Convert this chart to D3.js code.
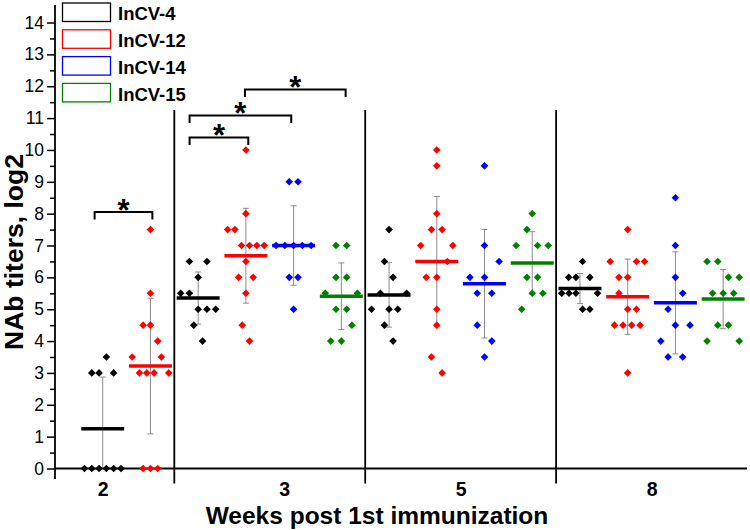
<!DOCTYPE html>
<html>
<head>
<meta charset="utf-8">
<script src="https://cdn.jsdelivr.net/npm/d3@7"></script>
<style>
  html, body { margin: 0; padding: 0; background: #fff; }
  svg { display: block; }
</style>
</head>
<body>
<svg id="chart" width="750" height="530"></svg>
<script>
// ---------------- DATA ----------------
const weeks = ["2", "3", "5", "8"];
const weekLabelPos = [0, 3.8, 7.5, 11.5];      // axis positions of the week labels (slot units)
const groupDividers = [1.5, 5.5, 9.5];          // separators between weeks (slot units)
const seriesNames = ["InCV-4", "InCV-12", "InCV-14", "InCV-15"];
const seriesColors = ["#000000", "#ff0000", "#0000ff", "#008000"];
const yTicks = [0,1,2,3,4,5,6,7,8,9,10,11,12,13,14];

// Each group: values and jitter (in point-width units)
const w2_InCV4_values  = [3.5, 3, 3, 3, 0, 0, 0, 0, 0, 0];
const w2_InCV4_jitter  = [0.5, -1.5, -0.5, 1.5, -2.5, -1.5, -0.5, 0.5, 1.5, 2.5];
const w2_InCV12_values = [7.5, 5.5, 4.5, 4.5, 4, 3.5, 3.5, 3, 3, 3, 3, 0, 0, 0];
const w2_InCV12_jitter = [0, 0, -1, 0, 1, -2.5, 1.5, -1.5, -0.5, 0.5, 2.5, -1, 0, 1];

const w3_InCV4_values  = [6.5, 6.5, 6, 5.5, 5.5, 5, 5, 5, 4.5, 4];
const w3_InCV4_jitter  = [-1.2, 1.2, 0, -2.4, -1.2, 0, 1.2, 2.4, -0.6, 0.6];
const w3_InCV12_values = [10, 8, 7.5, 7.5, 7, 7, 7, 7, 6.5, 6, 6, 5.5, 4.5, 4];
const w3_InCV12_jitter = [0, 0, -2.5, -1.5, -0.6, 0.5, 1.5, 2.5, 0, -1, 1, 0, -0.5, 0.5];
const w3_InCV14_values = [9, 9, 7, 7, 7, 7, 7, 6, 6, 5];
const w3_InCV14_jitter = [-0.6, 0.6, -2.4, -1.2, 0, 1.2, 2.4, -0.6, 0.6, 0];
const w3_InCV15_values = [7, 7, 6, 6, 5.5, 5.5, 5, 5, 4.5, 4, 4];
const w3_InCV15_jitter = [-0.73, 0.73, -0.73, 0.73, -2.2, 2.2, -0.73, 0.73, 1.45, -1.45, 0];

const w5_InCV4_values  = [7.5, 6.5, 6, 5.5, 5.5, 5, 5, 5, 4.5, 4];
const w5_InCV4_jitter  = [0, -0.64, 0.55, -1.2, 2.4, -2.4, 0, 1.2, -0.64, 0.55];
const w5_InCV12_values = [10, 9.5, 8, 7.5, 7.5, 7, 7, 6.5, 6, 6, 5, 4.5, 3.5, 3];
const w5_InCV12_jitter = [0, 0, 0, -0.73, 0.73, -2.2, 2.2, 1.45, -1.45, 0, 0, 0, -0.73, 0.73];
const w5_InCV14_values = [9.5, 7, 6.5, 6, 6, 5.5, 5.5, 4.5, 4, 3.5];
const w5_InCV14_jitter = [0, 0, 2, -2, 0, -1, 1, -1, 1, 0];
const w5_InCV15_values = [8, 7.5, 7, 7, 7, 6, 6, 5.5, 5.5, 5];
const w5_InCV15_jitter = [0, -0.73, -2.2, 0.73, 2.2, -0.73, 0.73, 0, 1.45, -1.45];

const w8_InCV4_values  = [6.5, 6, 6, 6, 5.5, 5.5, 5.5, 5.5, 5, 5];
const w8_InCV4_jitter  = [0.36, -1.55, -0.55, 1.36, -2.5, -1.5, -0.55, 2.4, 0.36, 1.36];
const w8_InCV12_values = [7.5, 6.5, 6.5, 6.5, 6, 6, 5.5, 5, 5, 4.5, 4.5, 4.5, 4.5, 3];
const w8_InCV12_jitter = [0, -2.4, 1.2, 2.3, -1.2, 0, -1.2, 0, 1.2, -1.8, -0.64, 0.55, 1.7, 0];
const w8_InCV14_values = [8.5, 7, 6, 5.5, 5, 4.5, 4.5, 4, 3.5, 3.5];
const w8_InCV14_jitter = [0, 0, 0, 1, -1, 0, 2, -2, -1, 1];
const w8_InCV15_values = [6.5, 6.5, 6, 6, 5.5, 5.5, 5.5, 4.5, 4.5, 4, 4];
const w8_InCV15_jitter = [-2.2, -0.73, 0.73, 2.2, -1.45, 0, 1.45, -0.73, 0.73, -2.2, 2.2];

// significance brackets: [from slot, to slot, y value]
const brackets = [
  [-0.17, 1.04, 8.05],
  [1.82, 3.05, 10.39],
  [1.82, 3.95, 11.08],
  [2.98, 5.09, 11.9]
];

// table built from the arrays above
const groups = [
  {slot: 0,  s: 0, v: w2_InCV4_values,  j: w2_InCV4_jitter},
  {slot: 1,  s: 1, v: w2_InCV12_values, j: w2_InCV12_jitter},
  {slot: 2,  s: 0, v: w3_InCV4_values,  j: w3_InCV4_jitter},
  {slot: 3,  s: 1, v: w3_InCV12_values, j: w3_InCV12_jitter},
  {slot: 4,  s: 2, v: w3_InCV14_values, j: w3_InCV14_jitter},
  {slot: 5,  s: 3, v: w3_InCV15_values, j: w3_InCV15_jitter},
  {slot: 6,  s: 0, v: w5_InCV4_values,  j: w5_InCV4_jitter},
  {slot: 7,  s: 1, v: w5_InCV12_values, j: w5_InCV12_jitter},
  {slot: 8,  s: 2, v: w5_InCV14_values, j: w5_InCV14_jitter},
  {slot: 9,  s: 3, v: w5_InCV15_values, j: w5_InCV15_jitter},
  {slot: 10, s: 0, v: w8_InCV4_values,  j: w8_InCV4_jitter},
  {slot: 11, s: 1, v: w8_InCV12_values, j: w8_InCV12_jitter},
  {slot: 12, s: 2, v: w8_InCV14_values, j: w8_InCV14_jitter},
  {slot: 13, s: 3, v: w8_InCV15_values, j: w8_InCV15_jitter}
];

// ---------------- CHART ----------------
const FONT = "'Liberation Sans', Arial, sans-serif";
const svg = d3.select("#chart");
const x = d3.scaleLinear().domain([-1, 13.5]).range([55, 747]);
const y = d3.scaleLinear().domain([0, 14.55]).range([468.5, 5]);
const JIT = 0.153;       // jitter unit in slot units
const MEANW = 0.45;      // half width of mean line in slot units

// y axis
const yAxisG = svg.append("g").attr("transform", `translate(${x(-1)},0)`);
yAxisG.call(d3.axisLeft(y).tickValues(d3.range(0.5, 14.5, 1)).tickSize(5).tickFormat(""))
  .call(g => g.select(".domain").remove());
const yMajor = svg.append("g").attr("transform", `translate(${x(-1)},0)`);
yMajor.call(d3.axisLeft(y).tickValues(yTicks).tickSize(8).tickPadding(3))
  .call(g => g.select(".domain").remove());
svg.selectAll(".tick line").attr("stroke", "#000").attr("stroke-width", 1.5);
yMajor.selectAll(".tick text").attr("font-family", FONT).attr("font-size", 17.5).attr("fill", "#000");
svg.append("line")
  .attr("x1", x(-1)).attr("x2", x(-1))
  .attr("y1", y(14.55)).attr("y2", y(0) + 10.5)
  .attr("stroke", "#000").attr("stroke-width", 1.8);

// x axis
svg.append("line")
  .attr("x1", x(-1)).attr("x2", x(13.5))
  .attr("y1", y(0)).attr("y2", y(0))
  .attr("stroke", "#000").attr("stroke-width", 1.8);
const xLab = svg.append("g").attr("transform", `translate(0,${y(0)})`);
xLab.call(d3.axisBottom(x).tickValues(weekLabelPos).tickSize(0).tickPadding(13.5)
  .tickFormat((d, i) => weeks[i]))
  .call(g => g.select(".domain").remove());
xLab.selectAll(".tick text").attr("font-family", FONT).attr("font-size", 19.5)
  .attr("font-weight", "bold").attr("fill", "#000");

// dividers
svg.append("g").selectAll("line").data(groupDividers).join("line")
  .attr("x1", d => x(d)).attr("x2", d => x(d))
  .attr("y1", y(11.25)).attr("y2", y(0) + 15)
  .attr("stroke", "#000").attr("stroke-width", 1.8);

// axis titles
svg.append("text")
  .attr("x", 377).attr("y", 523.5)
  .attr("text-anchor", "middle")
  .attr("font-family", FONT).attr("font-size", 24.5).attr("font-weight", "bold")
  .text("Weeks post 1st immunization");
svg.append("text")
  .attr("transform", "translate(23,252) rotate(-90)")
  .attr("text-anchor", "middle")
  .attr("font-family", FONT).attr("font-size", 26.5).attr("font-weight", "bold")
  .text("NAb titers, log2");

// error bars
const stats = groups.map(g => ({
  slot: g.slot, s: g.s,
  mean: d3.mean(g.v), sd: d3.deviation(g.v)
}));
const eb = svg.append("g").attr("stroke", "#8c8c8c").attr("stroke-width", 1).attr("fill", "none");
stats.forEach(st => {
  const top = st.mean + st.sd, bot = Math.max(0, st.mean - st.sd);
  const cx = x(st.slot);
  eb.append("line").attr("x1", cx).attr("x2", cx).attr("y1", y(top)).attr("y2", y(bot));
  eb.append("line").attr("x1", cx - 3).attr("x2", cx + 3).attr("y1", y(top)).attr("y2", y(top));
  if (st.mean - st.sd > 0)
    eb.append("line").attr("x1", cx - 3).attr("x2", cx + 3).attr("y1", y(bot)).attr("y2", y(bot));
});

// points
const pts = [];
groups.forEach(g => g.v.forEach((v, i) => pts.push({slot: g.slot, s: g.s, v, j: g.j[i]})));
const diamond = d3.symbol(d3.symbolSquare, 29)();
svg.append("g").selectAll("path").data(pts).join("path")
  .attr("d", diamond)
  .attr("transform", d => `translate(${x(d.slot + d.j * JIT)},${y(d.v)}) rotate(45)`)
  .attr("fill", d => seriesColors[d.s]);

// mean lines
svg.append("g").selectAll("line").data(stats).join("line")
  .attr("x1", d => x(d.slot - MEANW)).attr("x2", d => x(d.slot + MEANW))
  .attr("y1", d => y(d.mean)).attr("y2", d => y(d.mean))
  .attr("stroke", d => seriesColors[d.s]).attr("stroke-width", 3.5);

// significance brackets
const br = svg.append("g");
brackets.forEach(b => {
  const x1 = x(b[0]), x2 = x(b[1]), yy = y(b[2]);
  br.append("path")
    .attr("d", `M${x1},${yy + 7.5}V${yy}H${x2}V${yy + 7.5}`)
    .attr("fill", "none").attr("stroke", "#000").attr("stroke-width", 2);
  br.append("text")
    .attr("x", (x1 + x2) / 2).attr("y", yy + 8.5)
    .attr("text-anchor", "middle")
    .attr("font-family", FONT).attr("font-size", 31).attr("font-weight", "bold")
    .text("*");
});

// legend
const lg = svg.append("g");
seriesNames.forEach((n, i) => {
  lg.append("rect")
    .attr("x", 62.5).attr("y", 3 + 26.8 * i)
    .attr("width", 48).attr("height", 18.5)
    .attr("fill", "none").attr("stroke", seriesColors[i]).attr("stroke-width", 1.3);
  lg.append("text")
    .attr("x", 118).attr("y", 20.2 + 26.8 * i)
    .attr("font-family", FONT).attr("font-size", 18.5).attr("font-weight", "bold")
    .text(n);
});
</script>
</body>
</html>
